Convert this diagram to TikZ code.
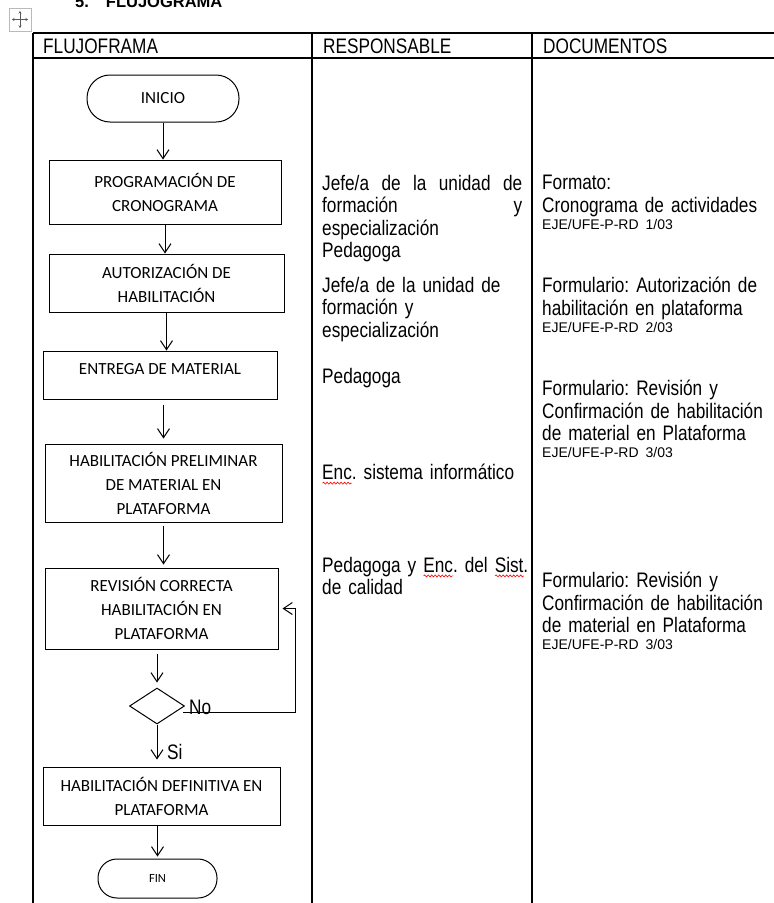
\documentclass[tikz,border=0pt]{standalone}
\usepackage{fontspec}
\usetikzlibrary{arrows.meta}
\usetikzlibrary{shapes.geometric}
\usetikzlibrary{decorations.pathmorphing}
\usetikzlibrary{positioning}
\newfontfamily\narrow{Liberation Sans}[FakeStretch=0.82]
\newfontfamily\arialf{Liberation Sans}
\newfontfamily\calibri{Carlito}
\setlength\parindent{0pt}
\frenchspacing
\newlength\errw
\newcommand\errwave[1]{\settowidth\errw{#1}\rlap{\tikz[baseline=0pt]\draw[red, line width=0.6pt, decorate, decoration={snake, amplitude=1pt, segment length=3.5pt}] (0pt,-3.5pt) -- (\errw,-3.5pt);}#1}
\newcommand\codigo[1]{\par\arialf\fontsize{14}{17}\selectfont #1\par}
\newcommand\lleno[1]{\leavevmode\hbox to 200pt{#1}}

\tikzset{
  tabla/.style={line width=1.2pt},
  paso/.style={draw, line width=1pt, inner sep=0pt, align=center, font=\calibri\fontsize{17}{24}\selectfont},
  term/.style={paso},
  flecha/.style={line width=1pt, -{Straight Barb[length=9pt,width=12pt]}},
  cab/.style={anchor=base west, inner sep=0pt, font=\narrow\fontsize{21}{23}\selectfont},
  resp/.style={anchor=north west, inner sep=0pt, text width=210pt, align=left, font=\narrow\fontsize{21}{22.5}\selectfont},
  doc/.style={resp, text width=228pt},
  lbl/.style={inner sep=2pt, anchor=west, font=\narrow\fontsize{21}{23}\selectfont}
}

\begin{document}
\begin{tikzpicture}[x=1pt, y=-1pt]
  \useasboundingbox[fill=white] (0,0) rectangle (774,903);

  \node[anchor=base west, inner sep=0pt, font=\arialf\bfseries\fontsize{16.5}{18}\selectfont] (titulo) at (75,7) {5.\hspace{17pt}FLUJOGRAMA};
  \draw[gray!55, line width=0.6pt] (9,8) rectangle (31,31);
  \draw[gray!70!black, line width=0.6pt, {Stealth[length=2.5pt,width=3pt]}-{Stealth[length=2.5pt,width=3pt]}] (12,19.5) -- (28,19.5);
  \draw[gray!70!black, line width=0.6pt, {Stealth[length=2.5pt,width=3pt]}-{Stealth[length=2.5pt,width=3pt]}] (20,11) -- (20,28);

  \draw[tabla] (33,33) -- (774,33);
  \draw[tabla] (33,58) -- (774,58);
  \foreach \x in {33,312,532}
    \draw[tabla] (\x,33) -- (\x,903);

  \node[cab] (h1) at (43,53.5) {FLUJOFRAMA};
  \node[cab] (h2) at (323,53.5) {RESPONSABLE};
  \node[cab] (h3) at (543,53.5) {DOCUMENTOS};

  \node[term, minimum width=152pt, minimum height=47pt, rounded corners=23pt] (ini) at (163,98.5) {INICIO};
  \node[paso, minimum width=232pt, minimum height=64pt] (prog) at (165,192) {PROGRAMACIÓN DE\\CRONOGRAMA};
  \node[paso, minimum width=235pt, minimum height=58pt] (aut) at (166.5,283) {AUTORIZACIÓN DE\\HABILITACIÓN};
  \node[paso, minimum width=234pt, minimum height=48pt, text height=11pt, text depth=12pt] (ent) at (160,375) {ENTREGA DE MATERIAL};
  \node[paso, minimum width=237pt, minimum height=78pt] (pre) at (163.5,483) {HABILITACIÓN PRELIMINAR\\DE MATERIAL EN\\PLATAFORMA};
  \node[paso, minimum width=233pt, minimum height=81pt] (rev) at (161.5,608.5) {REVISIÓN CORRECTA\\HABILITACIÓN EN\\PLATAFORMA};
  \node[draw, diamond, line width=1pt, minimum width=55pt, minimum height=36pt, inner sep=0pt] (dec) at (157,706) {};
  \node[paso, minimum width=237pt, minimum height=58pt] (def) at (161.5,796) {HABILITACIÓN DEFINITIVA EN\\PLATAFORMA};
  \node[term, minimum width=119pt, minimum height=39pt, rounded corners=19pt, font=\calibri\fontsize{12.5}{14}\selectfont] (fin) at (157.5,878.5) {FIN};

  \node[lbl] (no) at (187,707) {No};
  \node[lbl] (si) at (165,752) {Si};

  \draw[flecha] (ini.south) -- (ini.south |- prog.north);
  \draw[flecha] (prog.south) -- (prog.south |- aut.north);
  \draw[flecha] (aut.south) -- (aut.south |- ent.north);
  \draw[flecha, shorten <=5pt, shorten >=5pt] (pre.north |- ent.south) -- (pre.north);
  \draw[flecha, shorten <=3pt, shorten >=3pt] (pre.south) -- (pre.south |- rev.north);
  \draw[flecha, shorten <=4pt, shorten >=5pt] (dec.north |- rev.south) -- (dec.north);
  \draw[flecha, shorten >=7pt] (dec.south) -- (dec.south |- def.north);
  \draw[flecha, shorten >=2pt] (fin.north |- def.south) -- (fin.north);
  \coordinate (vuelta) at (295,712);
  \draw[flecha] ([shift={(-2pt,-6pt)}]dec.east) -- (vuelta) |- ([xshift=4pt]rev.east);

  \node[resp] (r1) at (322,175) {\lleno{Jefe/a\hfil de\hfil la\hfil unidad\hfil de}\\\lleno{formación\hfil y}\\especialización\\Pedagoga};
  \node[resp] (r2) at (322,277) {Jefe/a de la unidad de\\formación y\\especialización};
  \node[resp] (r3) at (322,368) {Pedagoga};
  \node[resp] (r4) at (322,464) {\errwave{Enc}. sistema informático};
  \node[resp] (r5) at (322,557) {Pedagoga y \errwave{Enc}. del \errwave{Sist}.\\de calidad};

  \node[doc] (d1) at (542,175) {Formato:\\Cronograma de actividades\codigo{EJE/UFE-P-RD 1/03}};
  \node[doc] (d2) at (542,277) {Formulario: Autorización de\\habilitación en plataforma\codigo{EJE/UFE-P-RD 2/03}};
  \node[doc] (d3) at (542,380) {Formulario: Revisión y\\Confirmación de habilitación\\de material en Plataforma\codigo{EJE/UFE-P-RD 3/03}};
  \node[doc] (d4) at (542,572) {Formulario: Revisión y\\Confirmación de habilitación\\de material en Plataforma\codigo{EJE/UFE-P-RD 3/03}};
\end{tikzpicture}
\end{document}
